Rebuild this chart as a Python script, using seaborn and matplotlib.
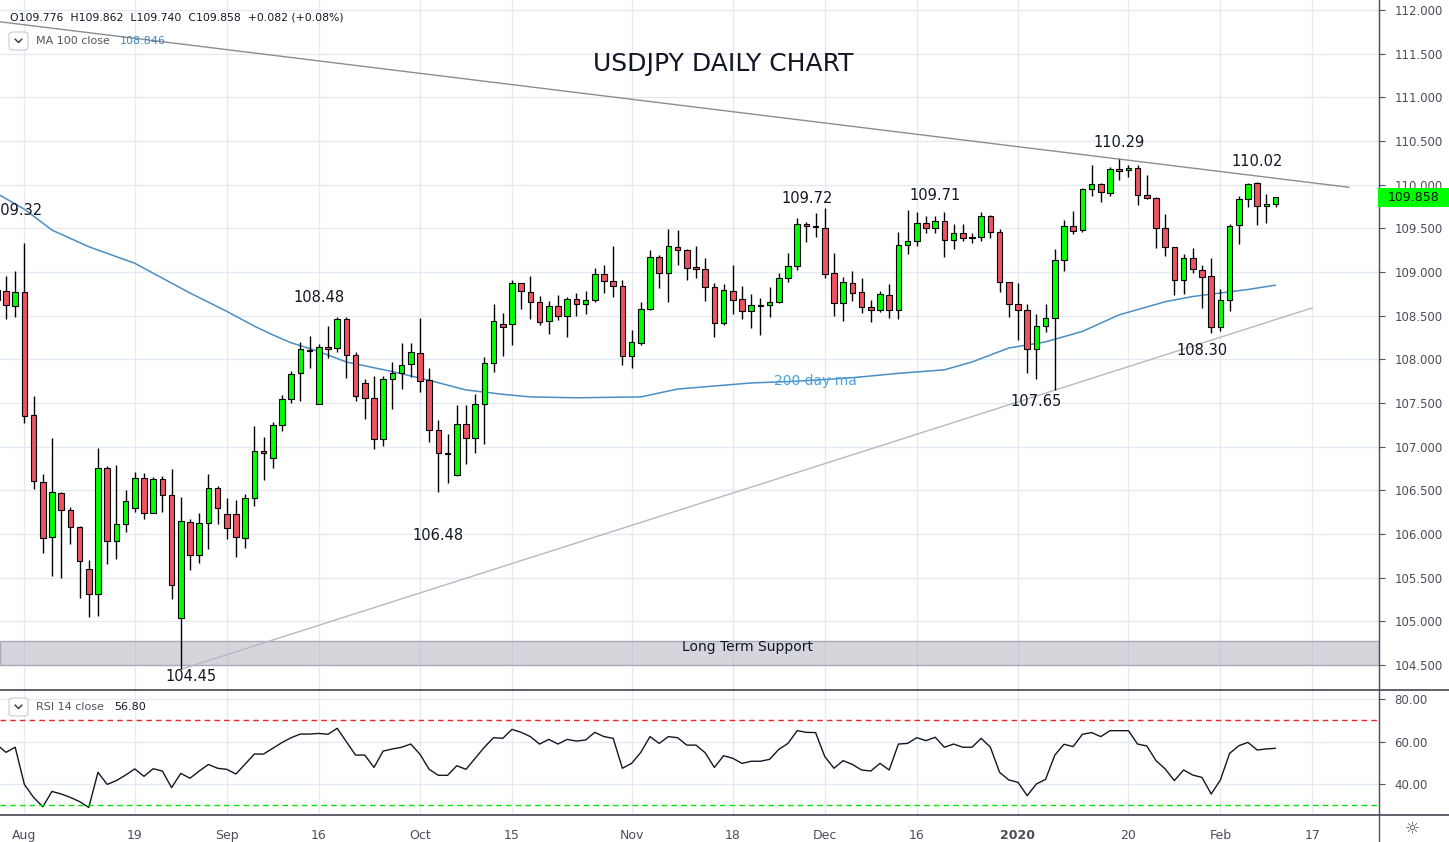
import numpy as np
import pandas as pd
import seaborn as sns
import matplotlib.pyplot as plt
from matplotlib.lines import Line2D
from matplotlib.patches import Rectangle, FancyBboxPatch

sns.set_style('white')
plt.rcParams['font.family'] = ['DejaVu Sans']

W, H = 1449, 842


def fx(x):
    return x / W


def fy(y):
    return 1 - y / H


# trading days shown on the chart (no bars on 25 Dec and 1 Jan)
holidays = ['2019-12-25', '2020-01-01']
days = pd.bdate_range('2019-07-29', '2020-02-28').drop(pd.to_datetime(holidays))

opens = [
    108.79, 108.786, 108.607, 108.767, 107.359, 106.592, 105.966, 106.466, 106.271, 106.076,
    105.595, 105.309, 106.752, 105.916, 106.111, 106.294, 106.638, 106.237, 106.626, 106.443,
    105.038, 106.134, 105.760, 106.122, 106.523, 106.225, 106.225, 105.950, 106.409, 106.947,
    106.867, 107.244, 107.542, 107.840, 108.107, 107.485, 108.145, 108.126, 108.458, 108.046,
    107.725, 107.554, 107.084, 107.771, 107.840, 107.943, 108.069, 107.760, 107.187, 106.924,
    106.672, 107.256, 107.096, 107.485, 107.954, 108.400, 108.400, 108.870, 108.767, 108.652,
    108.435, 108.606, 108.492, 108.694, 108.629, 108.675, 108.973, 108.893, 108.835, 108.034,
    108.183, 108.572, 109.168, 108.984, 109.282, 109.248, 109.053, 109.030, 108.824, 108.412,
    108.778, 108.687, 108.550, 108.618, 108.618, 108.653, 108.928, 109.065, 109.546, 109.523,
    109.500, 108.985, 108.641, 108.870, 108.767, 108.595, 108.561, 108.733, 108.561, 109.305,
    109.351, 109.557, 109.500, 109.580, 109.363, 109.443, 109.397, 109.397, 109.637, 109.454,
    108.882, 108.630, 108.561, 108.115, 108.378, 108.470, 109.134, 109.523, 109.477, 109.947,
    110.004, 109.901, 110.176, 110.164, 110.187, 109.878, 109.844, 109.500, 109.282, 108.905,
    109.156, 109.019, 108.950, 108.366, 108.676, 109.534, 109.832, 110.015, 109.752, 109.776,
]
highs = [
    108.85, 108.954, 109.012, 109.328, 107.580, 106.683, 107.096, 106.477, 106.309, 106.092,
    105.702, 106.985, 106.779, 106.790, 106.504, 106.710, 106.695, 106.649, 106.664, 106.744,
    106.424, 106.172, 106.241, 106.687, 106.550, 106.409, 106.389, 106.454, 107.237, 107.115,
    107.283, 107.592, 107.867, 108.195, 108.267, 108.176, 108.382, 108.481, 108.481, 108.088,
    107.771, 107.809, 107.809, 107.970, 108.191, 108.191, 108.470, 107.897, 107.302, 107.145,
    107.473, 107.473, 107.599, 108.031, 108.634, 108.526, 108.904, 108.880, 108.950, 108.721,
    108.668, 108.733, 108.713, 108.755, 108.782, 109.042, 109.080, 109.297, 108.904, 108.332,
    108.652, 109.248, 109.191, 109.488, 109.477, 109.259, 109.297, 109.156, 108.870, 108.858,
    109.080, 108.835, 108.744, 108.699, 108.824, 108.985, 109.214, 109.615, 109.569, 109.672,
    109.729, 109.214, 108.939, 109.008, 108.928, 108.676, 108.779, 108.859, 109.454, 109.706,
    109.683, 109.637, 109.637, 109.683, 109.546, 109.546, 109.443, 109.683, 109.649, 109.489,
    108.890, 108.870, 108.630, 108.515, 108.630, 109.260, 109.592, 109.695, 109.958, 110.221,
    110.015, 110.199, 110.290, 110.221, 110.221, 110.107, 109.855, 109.660, 109.290, 109.202,
    109.271, 109.076, 109.156, 108.802, 109.546, 109.866, 110.015, 110.027, 109.889, 109.862,
]
lows = [
    108.62, 108.458, 108.489, 107.267, 106.519, 105.787, 105.523, 105.500, 105.889, 105.271,
    105.053, 105.065, 105.653, 105.710, 106.027, 106.256, 106.168, 106.237, 106.256, 105.260,
    104.450, 105.588, 105.664, 105.825, 106.111, 105.939, 105.741, 105.836, 106.325, 106.618,
    106.760, 107.183, 107.504, 107.527, 107.905, 107.485, 108.019, 108.088, 107.790, 107.527,
    107.313, 106.970, 107.004, 107.428, 107.657, 107.794, 107.626, 107.050, 106.480, 106.588,
    106.660, 106.806, 106.931, 107.035, 107.851, 108.034, 108.160, 108.572, 108.458, 108.389,
    108.286, 108.446, 108.252, 108.492, 108.515, 108.656, 108.755, 108.717, 107.931, 107.897,
    108.170, 108.560, 108.820, 108.652, 109.076, 108.904, 108.927, 108.664, 108.252, 108.389,
    108.515, 108.458, 108.355, 108.275, 108.481, 108.640, 108.882, 109.019, 109.340, 109.397,
    108.928, 108.492, 108.435, 108.664, 108.527, 108.424, 108.540, 108.469, 108.458, 109.202,
    109.294, 109.443, 109.443, 109.176, 109.260, 109.351, 109.328, 109.351, 109.386, 108.775,
    108.481, 108.218, 107.840, 107.779, 108.309, 107.650, 109.008, 109.431, 109.460, 109.866,
    109.798, 109.866, 110.050, 110.084, 109.763, 109.840, 109.271, 109.179, 108.733, 108.744,
    108.985, 108.584, 108.300, 108.330, 108.550, 109.317, 109.741, 109.534, 109.557, 109.740,
]
closes = [
    108.68, 108.618, 108.767, 107.351, 106.607, 105.950, 106.477, 106.271, 106.076, 105.687,
    105.309, 106.752, 105.916, 106.111, 106.374, 106.638, 106.237, 106.626, 106.443, 105.412,
    106.145, 105.760, 106.122, 106.523, 106.294, 106.065, 105.962, 106.409, 106.947, 106.924,
    107.244, 107.542, 107.828, 108.115, 108.100, 108.145, 108.115, 108.458, 108.046, 107.580,
    107.554, 107.084, 107.771, 107.840, 107.932, 108.080, 107.752, 107.187, 106.924, 106.920,
    107.256, 107.096, 107.485, 107.954, 108.435, 108.366, 108.870, 108.782, 108.652, 108.427,
    108.606, 108.492, 108.694, 108.629, 108.675, 108.973, 108.893, 108.835, 108.034, 108.194,
    108.572, 109.168, 108.984, 109.294, 109.248, 109.042, 109.030, 108.824, 108.412, 108.790,
    108.675, 108.550, 108.618, 108.615, 108.653, 108.928, 109.065, 109.546, 109.523, 109.520,
    108.973, 108.641, 108.882, 108.756, 108.595, 108.561, 108.744, 108.561, 109.305, 109.351,
    109.557, 109.500, 109.580, 109.363, 109.443, 109.386, 109.395, 109.637, 109.454, 108.882,
    108.630, 108.561, 108.115, 108.378, 108.470, 109.134, 109.523, 109.466, 109.947, 110.004,
    109.912, 110.176, 110.153, 110.187, 109.878, 109.844, 109.500, 109.282, 108.905, 109.156,
    109.031, 108.939, 108.366, 108.676, 109.523, 109.832, 110.004, 109.752, 109.775, 109.858,
]
rsi = [
    58.6, 54.9, 57.3, 39.8, 33.7, 29.3, 36.5, 35.3, 33.7, 31.7,
    29.0, 45.5, 39.8, 41.6, 44.2, 47.1, 43.6, 47.2, 46.1, 38.3,
    45.0, 42.7, 46.1, 49.2, 47.4, 46.9, 44.7, 49.4, 54.1, 54.1,
    56.8, 59.5, 61.8, 63.5, 63.5, 63.8, 63.4, 66.2, 59.9, 53.6,
    53.6, 47.8, 55.5, 56.5, 57.3, 58.8, 54.0, 46.9, 44.1, 44.1,
    48.6, 46.9, 52.1, 57.3, 61.8, 61.5, 65.7, 64.3, 62.3, 58.8,
    61.0, 58.8, 61.0, 60.2, 60.7, 64.3, 62.3, 61.5, 47.4, 49.7,
    54.9, 62.3, 59.1, 62.3, 61.8, 58.3, 58.3, 54.7, 47.8, 53.3,
    52.1, 49.7, 50.7, 50.7, 51.6, 56.3, 59.1, 65.1, 64.3, 64.2,
    52.9, 47.4, 51.0, 49.2, 46.6, 46.1, 49.7, 46.6, 58.8, 59.1,
    61.8, 60.4, 62.0, 57.3, 58.8, 57.3, 57.3, 61.5, 57.3, 45.5,
    41.9, 40.8, 34.5, 40.0, 42.2, 53.6, 58.7, 57.6, 63.4, 64.2,
    62.3, 65.1, 65.1, 65.1, 58.8, 57.9, 51.0, 47.1, 41.6, 46.6,
    44.2, 43.1, 35.3, 41.9, 54.4, 58.0, 59.6, 56.0, 56.5, 56.8,
]

# moving average at these bars
ma_bars = [0, 3, 6, 10, 15, 21, 25, 28, 30, 32, 35, 38, 43, 47, 51, 55, 58, 63, 70, 74,
           82, 87, 93, 98, 103, 106, 108, 110, 114, 118, 122, 127, 130, 133, 136, 139]
ma_vals = [109.90, 109.72, 109.48, 109.29, 109.10, 108.76, 108.55, 108.38, 108.28, 108.19,
           108.09, 107.97, 107.86, 107.76, 107.65, 107.60, 107.57, 107.56, 107.57, 107.66,
           107.73, 107.75, 107.79, 107.84, 107.88, 107.97, 108.05, 108.13, 108.20, 108.32,
           108.51, 108.66, 108.72, 108.76, 108.80, 108.85]

# trend lines (bar, price)
upper_bars = [0, 147]
upper_prices = [111.87, 109.97]
lower_bars = [20, 143]
lower_prices = [104.45, 108.59]
support_zone = [104.50, 104.775]

tick_dates = ['2019-08-01', '2019-08-19', '2019-09-02', '2019-09-16', '2019-10-01', '2019-10-15',
              '2019-11-01', '2019-11-18', '2019-12-02', '2019-12-16', '2020-01-02', '2020-01-20',
              '2020-02-03', '2020-02-17']
tick_labels = ['Aug', '19', 'Sep', '16', 'Oct', '15', 'Nov', '18', 'Dec', '16', '2020', '20', 'Feb', '17']

# swing labels: bar, text, anchored at high or low
swing_bars = [3, 37, 48, 20, 90, 99, 115, 122, 132, 137]
swing_texts = ['109.32', '108.48', '106.48', '104.45', '109.72', '109.71', '107.65', '110.29', '108.30', '110.02']
swing_side = ['high', 'high', 'low', 'low', 'high', 'high', 'low', 'high', 'low', 'high']
swing_offsets = [(-7, 33), (-18, 20), (0, -43), (10, -7), (-18, 10), (27, 15), (-19, -12), (0, 17), (-9, -17), (0, 21)]

bars = np.arange(len(closes))
o = np.array(opens)
c = np.array(closes)

grid_c = '#e3ebf1'
axis_c = '#50535e'
txt_c = '#4a4e59'

fig = plt.figure(figsize=(W / 100, H / 100), dpi=100)
ax = fig.add_axes([0, fy(690), fx(1379), 690 / H])
ax_rsi = fig.add_axes([0, fy(815), fx(1379), 125 / H], sharex=ax)

tick_pos = [days.get_loc(pd.Timestamp(d)) for d in tick_dates]

# ---- price panel
ax.set_xlim(0.35, 150.24)
ax.set_ylim(104.214, 112.115)
price_ticks = np.arange(104.5, 112.01, 0.5)
ax.set_yticks(price_ticks)
ax.set_yticklabels([f'{v:.3f}' for v in price_ticks])
ax.yaxis.tick_right()
ax.tick_params(axis='y', length=4, width=0.8, color=axis_c, labelcolor=txt_c, labelsize=8.5, pad=7)
ax.set_xticks(tick_pos)
ax.tick_params(axis='x', length=0, labelbottom=False)
ax.grid(True, color=grid_c, lw=1)
ax.set_axisbelow(True)
for s in ['top', 'left', 'bottom']:
    ax.spines[s].set_visible(False)
ax.spines['right'].set_color(axis_c)

ax.axhspan(support_zone[0], support_zone[1], fc=(0.70, 0.71, 0.75, 0.55), ec='#a9acb4', lw=1, zorder=1)

ax.plot(upper_bars, upper_prices, color='#8d8d8d', lw=1, zorder=2)
ax.plot(lower_bars, lower_prices, color='#b7b9c0', lw=1, zorder=2)

sns.lineplot(x=ma_bars, y=ma_vals, ax=ax, color='#4a8ec4', lw=1.1, zorder=2)

colors = np.where(c >= o, '#00ff00', '#ef5361')
ax.vlines(bars, lows, highs, color='black', lw=1, zorder=3)
ax.bar(bars, np.maximum(np.abs(c - o), 0.006), bottom=np.minimum(o, c), width=0.62,
       color=colors, edgecolor='black', linewidth=0.8, zorder=4)
ax.set_xlabel('')
ax.set_ylabel('')

for b, t, side, off in zip(swing_bars, swing_texts, swing_side, swing_offsets):
    yv = highs[b] if side == 'high' else lows[b]
    ax.annotate(t, xy=(b, yv), xytext=off, textcoords='offset pixels', ha='center', va='center',
                fontsize=10.5, color='#131722', zorder=6, annotation_clip=False)

# ---- RSI panel
ax_rsi.set_ylim(25.41, 84.24)
sns.lineplot(x=bars, y=rsi, ax=ax_rsi, color='#131722', lw=1)
ax_rsi.axhline(70, color='#e8282b', lw=1, ls=(0, (4, 3)))
ax_rsi.axhline(30, color='#00e600', lw=1, ls=(0, (4, 3)))
ax_rsi.set_yticks([40, 60, 80])
ax_rsi.set_yticklabels(['40.00', '60.00', '80.00'])
ax_rsi.yaxis.tick_right()
ax_rsi.tick_params(axis='y', length=4, width=0.8, color=axis_c, labelcolor=txt_c, labelsize=8.5, pad=7)
ax_rsi.set_xticks(tick_pos)
ax_rsi.set_xticklabels(tick_labels)
ax_rsi.tick_params(axis='x', length=3, width=0.8, color=axis_c, labelcolor=txt_c, labelsize=9, pad=7)
for lab in ax_rsi.get_xticklabels():
    if lab.get_text() == '2020':
        lab.set_fontweight('bold')
ax_rsi.grid(True, color=grid_c, lw=1)
ax_rsi.set_axisbelow(True)
for s in ['top', 'left', 'bottom']:
    ax_rsi.spines[s].set_visible(False)
ax_rsi.spines['right'].set_color(axis_c)
ax_rsi.set_xlabel('')
ax_rsi.set_ylabel('')

# ---- frame lines
for y in (690, 815):
    fig.add_artist(Line2D([0, 1], [fy(y), fy(y)], color='#434651', lw=1.2, transform=fig.transFigure))
fig.add_artist(Line2D([fx(1379), fx(1379)], [0, 1], color=axis_c, lw=1, transform=fig.transFigure))

# ---- texts
fig.text(fx(723), fy(64), 'USDJPY DAILY CHART', ha='center', va='center', fontsize=18, color='#131722')
fig.text(fx(748), fy(647), 'Long Term Support', ha='center', va='center', fontsize=10, color='#131722')
fig.text(fx(815), fy(381), '200 day ma', ha='center', va='center', fontsize=10, color='#4aa3df', zorder=5)

fig.text(fx(10), fy(17), 'O109.776  H109.862  L109.740  C109.858  +0.082 (+0.08%)',
         ha='left', va='center', fontsize=7.8, color='#131722')


def legend_box(y, label, value, value_color, value_x):
    fig.add_artist(FancyBboxPatch((fx(9), fy(y + 9)), 19 / W, 18 / H,
                                  boxstyle='round,pad=0,rounding_size=0.003', transform=fig.transFigure,
                                  fc='white', ec='#c8cbd2', lw=0.8))
    fig.add_artist(Line2D([fx(15), fx(18.5), fx(22)], [fy(y - 2), fy(y + 1.5), fy(y - 2)],
                          color='#333333', lw=1, transform=fig.transFigure))
    fig.text(fx(36), fy(y), label, ha='left', va='center', fontsize=8, color='#50535e')
    fig.text(fx(value_x), fy(y), value, ha='left', va='center', fontsize=8, color=value_color)


legend_box(41, 'MA 100 close', '108.846', '#3a8ac4', 120)
legend_box(707, 'RSI 14 close', '56.80', '#131722', 114)

# current price tag on the price scale
y_disp = ax.transData.transform((0, closes[-1]))[1]
y_tag = y_disp / fig.bbox.height
fig.add_artist(Rectangle((fx(1378), y_tag - 10 / H), 71 / W, 19 / H, transform=fig.transFigure,
                         fc='#00ff00', ec='none', zorder=5))
fig.text(fx(1414), y_tag, f'{closes[-1]:.3f}', ha='center', va='center', fontsize=9,
         color='#131722', zorder=6)

fig.text(fx(1412), fy(829), '\u263c', ha='center', va='center', fontsize=12, color='#50535e')

plt.savefig('out.png', dpi=100)
